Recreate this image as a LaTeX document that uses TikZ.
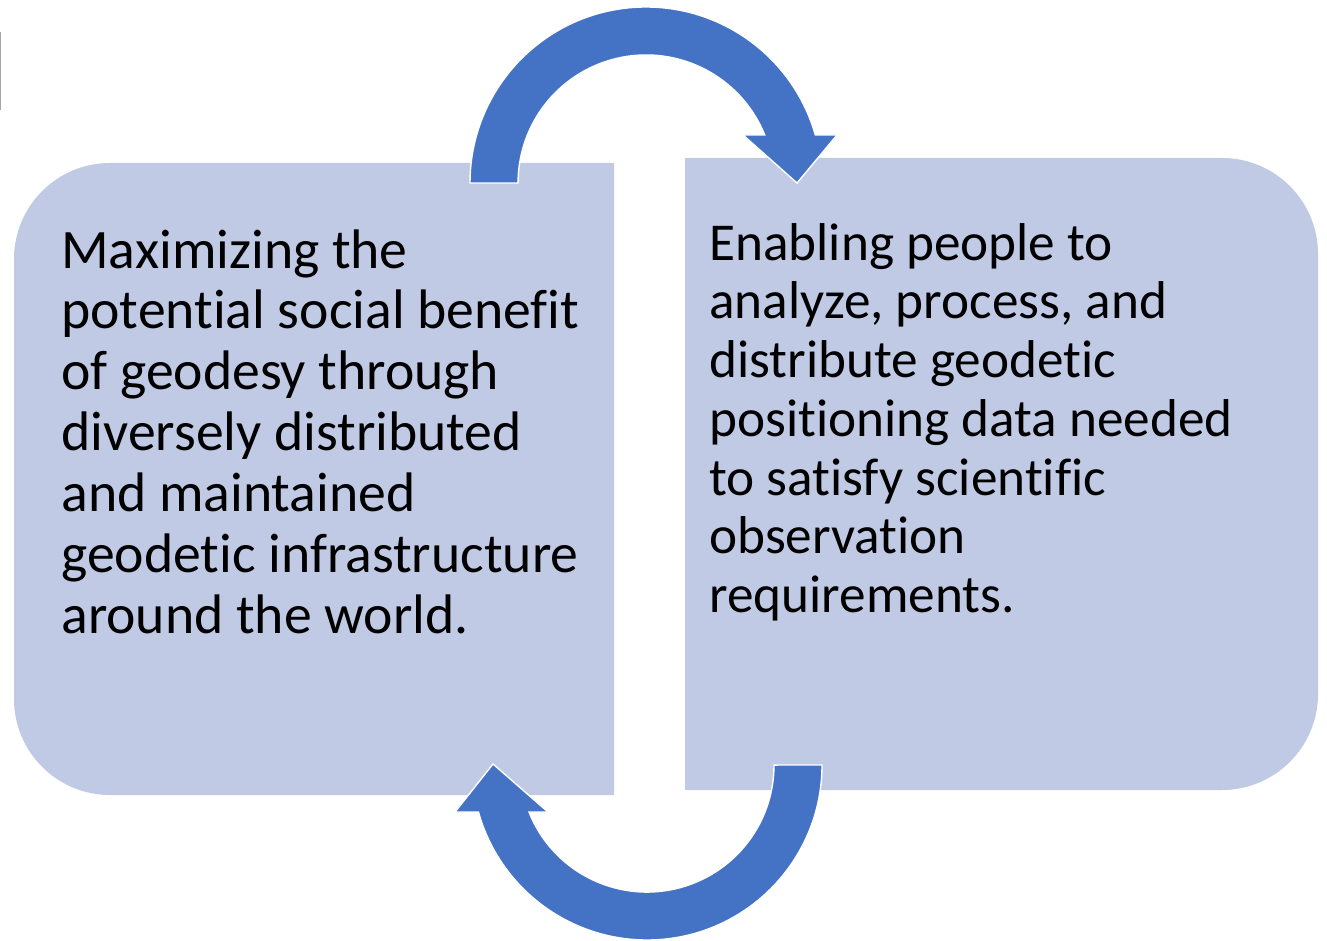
\documentclass[tikz,border=0pt]{standalone}
\usepackage{fontspec}
\setmainfont{Carlito}[Ligatures=NoCommon]
\definecolor{ink}{HTML}{000000}
\definecolor{panel}{HTML}{C0CAE5}
\definecolor{cycleblue}{HTML}{4472C4}

\begin{document}
\begin{tikzpicture}[x=0.02cm,y=0.02cm,text=ink,
  boxtext/.style={anchor=north west,align=left,inner sep=0pt},
  turn/.style={fill=cycleblue,draw=white,line width=0.8pt,line join=miter}]
  \useasboundingbox (0,0) rectangle (1327,940);
  \draw[gray!70,line width=0.6pt] (0.4,908) -- (0.4,830);

  % two panels, rounded on the outer side only
  \fill[panel] (614,145) -- (614,777) -- (110,777)
    arc[start angle=90,end angle=180,radius=96] -- (14,241)
    arc[start angle=180,end angle=270,radius=96] -- cycle;
  \fill[panel] (685,150) -- (685,782) -- (1222,782)
    arc[start angle=90,end angle=0,radius=96] -- (1318,246)
    arc[start angle=0,end angle=-90,radius=96] -- cycle;

  \node[boxtext,font=\fontsize{31.7}{34.7}\selectfont] (maxtext) at (61,711)
    {Maximizing the\\potential social benefit\\of geodesy through\\
     diversely distributed\\and maintained\\geodetic infrastructure\\
     around the world.};
  \node[boxtext,font=\fontsize{30.3}{33.4}\selectfont] (enabletext) at (709,717)
    {Enabling people to\\analyze, process, and\\distribute geodetic\\
     positioning data needed\\to satisfy scientific\\observation\\
     requirements.};

  % circular arrows
  \path[turn] (470,757) arc[start angle=180,end angle=15.83,radius=176]
    -- (837,805) -- (797,757) -- (743,805) -- (764.7,805)
    arc[start angle=22.02,end angle=180,radius=128] -- cycle;
  \path[turn] (822,175) arc[start angle=0,end angle=-164.4,radius=175]
    -- (455,128) -- (493,176) -- (548,128) -- (529,128)
    arc[start angle=-158.3,end angle=0,radius=127] -- cycle;
\end{tikzpicture}
\end{document}
